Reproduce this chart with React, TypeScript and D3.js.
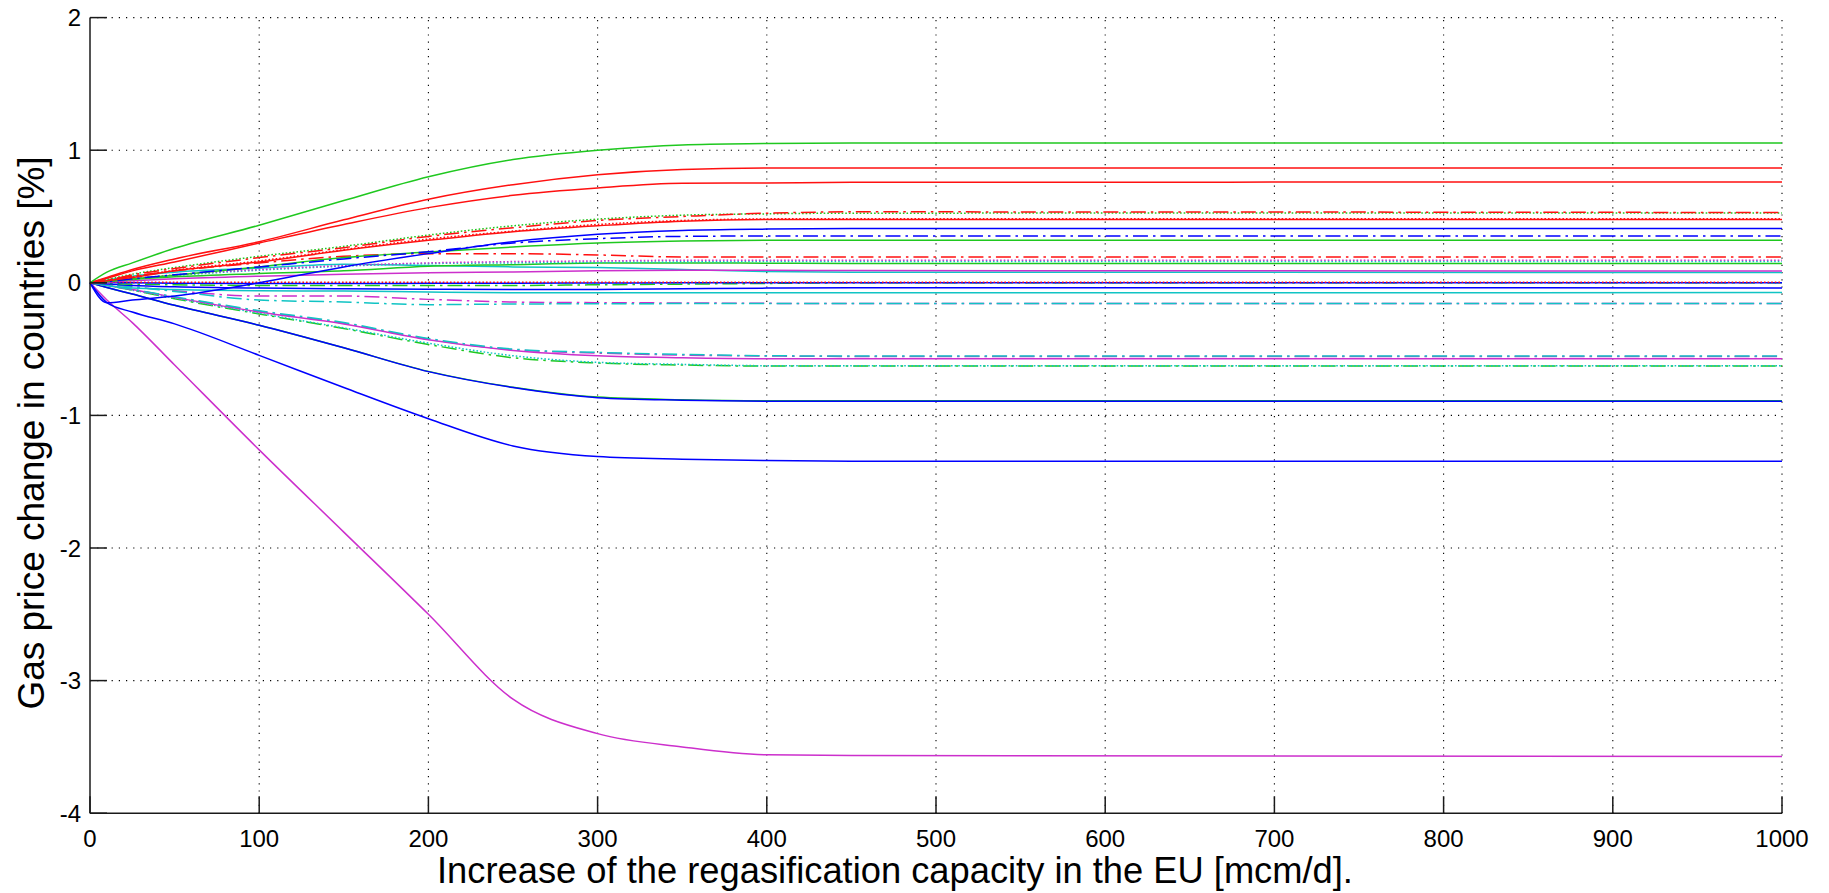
import React from "react";
import * as d3 from "d3";

// Capacity increase steps (mcm/d) at which each country's price change is sampled
const capacitySteps = [0, 10, 25, 50, 100, 150, 200, 250, 300, 350, 400, 450, 1000];

const xTickValues = [0, 100, 200, 300, 400, 500, 600, 700, 800, 900, 1000];
const yTickValues = [-4, -3, -2, -1, 0, 1, 2];

// Price change [%] per country, one array per curve
const greenTop = [0, 0.08, 0.15, 0.26, 0.434, 0.62, 0.8, 0.93, 1.0, 1.04, 1.05, 1.055, 1.055];
const redUpper = [0, 0.04, 0.1, 0.18, 0.31, 0.475, 0.63, 0.74, 0.815, 0.855, 0.866, 0.866, 0.866];
const redSecond = [0, 0.035, 0.09, 0.157, 0.3, 0.44, 0.567, 0.66, 0.715, 0.75, 0.753, 0.758, 0.76];
const redDashDotHigh = [0, 0.02, 0.06, 0.107, 0.19, 0.265, 0.35, 0.415, 0.47, 0.5, 0.525, 0.535, 0.53];
const greenDottedHigh = [0, 0.025, 0.065, 0.115, 0.2, 0.275, 0.36, 0.43, 0.48, 0.51, 0.52, 0.525, 0.527];
const redThird = [0, 0.015, 0.04, 0.09, 0.157, 0.245, 0.32, 0.385, 0.43, 0.465, 0.477, 0.477, 0.477];
const redDottedMid = [0, 0.02, 0.045, 0.095, 0.165, 0.25, 0.33, 0.39, 0.44, 0.47, 0.482, 0.483, 0.483];
const blueRising = [0, -0.15, -0.13, -0.1, 0.0, 0.12, 0.22, 0.31, 0.366, 0.395, 0.405, 0.409, 0.409];
const blueDashDotHigh = [0, 0.01, 0.03, 0.06, 0.12, 0.18, 0.235, 0.3, 0.333, 0.35, 0.353, 0.353, 0.353];
const greenMid = [0, 0.01, 0.03, 0.057, 0.12, 0.19, 0.233, 0.27, 0.3, 0.315, 0.321, 0.321, 0.321];
const redDashDotLow = [0, 0.02, 0.05, 0.09, 0.15, 0.2, 0.22, 0.22, 0.21, 0.195, 0.195, 0.195, 0.195];
const magentaDotted = [0, 0.01, 0.03, 0.06, 0.1, 0.13, 0.15, 0.16, 0.165, 0.17, 0.17, 0.17, 0.17];
const cyanDotted = [0, 0.01, 0.03, 0.055, 0.095, 0.125, 0.145, 0.15, 0.155, 0.158, 0.16, 0.16, 0.16];
const greenLow = [0, 0.01, 0.025, 0.045, 0.07, 0.09, 0.125, 0.137, 0.15, 0.15, 0.148, 0.146, 0.145];
const magentaSolidHigh = [0, 0.005, 0.015, 0.03, 0.05, 0.065, 0.075, 0.082, 0.09, 0.094, 0.094, 0.092, 0.089];
const cyanSolidHigh = [0, 0.02, 0.05, 0.08, 0.11, 0.14, 0.13, 0.12, 0.115, 0.1, 0.085, 0.08, 0.077];
const greenDashDotZero = [0, -0.005, -0.01, -0.015, -0.02, -0.02, -0.02, -0.02, -0.015, -0.01, -0.005, 0, 0];
const blueZero = [0, 0, 0, -0.003, -0.005, -0.005, -0.004, -0.003, -0.002, 0, 0, 0, 0];
const redDottedZero = [0, 0.003, 0.004, 0.004, 0.004, 0.004, 0.004, 0.004, 0.004, 0.004, 0.004, 0.004, 0.004];
const blueSlightNeg = [0, -0.01, -0.02, -0.03, -0.04, -0.045, -0.048, -0.05, -0.05, -0.045, -0.04, -0.037, -0.039];
const cyanSlightNeg = [0, -0.02, -0.04, -0.05, -0.06, -0.062, -0.07, -0.075, -0.075, -0.075, -0.075, -0.075, -0.074];
const magentaDashDotNeg = [0, -0.01, -0.03, -0.06, -0.1, -0.1, -0.125, -0.145, -0.15, -0.152, -0.155, -0.157, -0.157];
const cyanDashDotNeg = [0, -0.01, -0.03, -0.065, -0.13, -0.145, -0.165, -0.16, -0.158, -0.157, -0.157, -0.157, -0.157];
const greenDashDotMidNeg = [0, -0.02, -0.055, -0.12, -0.235, -0.345, -0.465, -0.565, -0.605, -0.62, -0.628, -0.628, -0.628];
const cyanDottedMidNeg = [0, -0.02, -0.055, -0.115, -0.23, -0.34, -0.455, -0.55, -0.6, -0.615, -0.625, -0.625, -0.625];
const magentaMidNeg = [0, -0.02, -0.05, -0.11, -0.22, -0.31, -0.43, -0.51, -0.55, -0.565, -0.572, -0.572, -0.572];
const magentaDashDotMidNeg = [0, -0.02, -0.05, -0.108, -0.215, -0.305, -0.425, -0.505, -0.53, -0.545, -0.552, -0.555, -0.555];
const cyanDashDotMidNeg = [0, -0.02, -0.05, -0.105, -0.21, -0.3, -0.42, -0.5, -0.525, -0.54, -0.55, -0.552, -0.552];
const greenLowNeg = [0, -0.035, -0.085, -0.17, -0.32, -0.49, -0.668, -0.788, -0.862, -0.882, -0.89, -0.89, -0.89];
const blueLowNeg = [0, -0.035, -0.085, -0.17, -0.32, -0.49, -0.67, -0.79, -0.866, -0.885, -0.893, -0.894, -0.894];
const blueDeep = [0, -0.15, -0.22, -0.31, -0.547, -0.79, -1.025, -1.23, -1.31, -1.33, -1.34, -1.345, -1.346];
const magentaDeep = [0, -0.13, -0.3, -0.62, -1.26, -1.88, -2.5, -3.14, -3.4, -3.5, -3.56, -3.565, -3.573];

// Drawing order (later curves sit on top)
const seriesTable: { name: string; values: number[] }[] = [
  { name: "magentaDeep", values: magentaDeep },
  { name: "greenLowNeg", values: greenLowNeg },
  { name: "blueLowNeg", values: blueLowNeg },
  { name: "blueDeep", values: blueDeep },
  { name: "greenDashDotMidNeg", values: greenDashDotMidNeg },
  { name: "cyanDottedMidNeg", values: cyanDottedMidNeg },
  { name: "magentaMidNeg", values: magentaMidNeg },
  { name: "magentaDashDotMidNeg", values: magentaDashDotMidNeg },
  { name: "cyanDashDotMidNeg", values: cyanDashDotMidNeg },
  { name: "magentaDashDotNeg", values: magentaDashDotNeg },
  { name: "cyanDashDotNeg", values: cyanDashDotNeg },
  { name: "cyanSlightNeg", values: cyanSlightNeg },
  { name: "blueSlightNeg", values: blueSlightNeg },
  { name: "greenDashDotZero", values: greenDashDotZero },
  { name: "blueZero", values: blueZero },
  { name: "redDottedZero", values: redDottedZero },
  { name: "cyanSolidHigh", values: cyanSolidHigh },
  { name: "magentaSolidHigh", values: magentaSolidHigh },
  { name: "greenLow", values: greenLow },
  { name: "cyanDotted", values: cyanDotted },
  { name: "magentaDotted", values: magentaDotted },
  { name: "redDashDotLow", values: redDashDotLow },
  { name: "greenMid", values: greenMid },
  { name: "blueDashDotHigh", values: blueDashDotHigh },
  { name: "blueRising", values: blueRising },
  { name: "redThird", values: redThird },
  { name: "redDottedMid", values: redDottedMid },
  { name: "greenDottedHigh", values: greenDottedHigh },
  { name: "redDashDotHigh", values: redDashDotHigh },
  { name: "redSecond", values: redSecond },
  { name: "redUpper", values: redUpper },
  { name: "greenTop", values: greenTop },
];

// Line appearance
const palette: Record<string, string> = {
  b: "#0000ff",
  g: "#1fc81f",
  r: "#ff1010",
  c: "#10c4c4",
  m: "#cc2fcc",
};
const dashes: Record<string, string | undefined> = {
  solid: undefined,
  dashDot: "15,5,2.5,5",
  dotted: "1.6,2",
};
const lineStyles: Record<string, [string, string]> = {
  magentaDeep: ["m", "solid"],
  greenLowNeg: ["g", "solid"],
  blueLowNeg: ["b", "solid"],
  blueDeep: ["b", "solid"],
  greenDashDotMidNeg: ["g", "dashDot"],
  cyanDottedMidNeg: ["c", "dotted"],
  magentaMidNeg: ["m", "solid"],
  magentaDashDotMidNeg: ["m", "dashDot"],
  cyanDashDotMidNeg: ["c", "dashDot"],
  magentaDashDotNeg: ["m", "dashDot"],
  cyanDashDotNeg: ["c", "dashDot"],
  cyanSlightNeg: ["c", "solid"],
  blueSlightNeg: ["b", "solid"],
  greenDashDotZero: ["g", "dashDot"],
  blueZero: ["b", "solid"],
  redDottedZero: ["r", "dotted"],
  cyanSolidHigh: ["c", "solid"],
  magentaSolidHigh: ["m", "solid"],
  greenLow: ["g", "solid"],
  cyanDotted: ["c", "dotted"],
  magentaDotted: ["m", "dotted"],
  redDashDotLow: ["r", "dashDot"],
  greenMid: ["g", "solid"],
  blueDashDotHigh: ["b", "dashDot"],
  blueRising: ["b", "solid"],
  redThird: ["r", "solid"],
  redDottedMid: ["r", "dotted"],
  greenDottedHigh: ["g", "dotted"],
  redDashDotHigh: ["r", "dashDot"],
  redSecond: ["r", "solid"],
  redUpper: ["r", "solid"],
  greenTop: ["g", "solid"],
};

const WIDTH = 1829;
const HEIGHT = 893;
const plot = { left: 90, right: 1782, top: 17.6, bottom: 813.2 };

export default function App() {
  const x = d3.scaleLinear().domain([0, 1000]).range([plot.left, plot.right]);
  const y = d3.scaleLinear().domain([-4, 2]).range([plot.bottom, plot.top]);

  const line = d3
    .line<[number, number]>()
    .x((d) => x(d[0]))
    .y((d) => y(d[1]))
    .curve(d3.curveMonotoneX);

  const font = "'Liberation Sans', Arial, Helvetica, sans-serif";
  const tickLen = 17;

  return (
    <svg
      width={WIDTH}
      height={HEIGHT}
      style={{ position: "absolute", left: 0, top: 0, display: "block", background: "#fff" }}
      fontFamily={font}
    >
      <rect x={0} y={0} width={WIDTH} height={HEIGHT} fill="#fff" />

      {/* dotted grid */}
      <g stroke="#000" strokeWidth={1.1} strokeDasharray="1.2,6" fill="none">
        {xTickValues
          .filter((v) => v !== 0)
          .map((v) => (
            <line key={"gx" + v} x1={x(v)} x2={x(v)} y1={plot.bottom} y2={plot.top} />
          ))}
        {yTickValues
          .filter((v) => v !== -4)
          .map((v) => (
            <line key={"gy" + v} x1={plot.left} x2={plot.right} y1={y(v)} y2={y(v)} />
          ))}
      </g>

      {/* curves */}
      <g fill="none" strokeWidth={1.5} strokeLinejoin="round">
        {seriesTable.map((s) => {
          const [c, st] = lineStyles[s.name];
          const pts = capacitySteps.map((cx, i) => [cx, s.values[i]] as [number, number]);
          return (
            <path
              key={s.name}
              d={line(pts) || ""}
              stroke={palette[c]}
              strokeDasharray={dashes[st]}
            />
          );
        })}
      </g>

      {/* axes */}
      <g stroke="#1a1a1a" strokeWidth={1.5} fill="none">
        <line x1={plot.left} x2={plot.left} y1={plot.top} y2={plot.bottom} />
        <line x1={plot.left} x2={plot.right} y1={plot.bottom} y2={plot.bottom} />
        {yTickValues.map((v) => (
          <line key={"ty" + v} x1={plot.left} x2={plot.left + tickLen} y1={y(v)} y2={y(v)} />
        ))}
        {xTickValues.map((v) => (
          <line key={"tx" + v} x1={x(v)} x2={x(v)} y1={plot.bottom} y2={plot.bottom - tickLen} />
        ))}
      </g>

      {/* tick labels */}
      <g fill="#000" fontSize={24}>
        {yTickValues.map((v) => (
          <text key={"ly" + v} x={plot.left - 9} y={y(v)} dy="0.36em" textAnchor="end">
            {v}
          </text>
        ))}
        {xTickValues.map((v) => (
          <text key={"lx" + v} x={x(v)} y={847} textAnchor="middle">
            {v}
          </text>
        ))}
      </g>

      {/* axis titles */}
      <text x={895} y={883} textAnchor="middle" fontSize={36.3} fill="#000">
        Increase of the regasification capacity in the EU [mcm/d].
      </text>
      <text
        transform={`translate(44, 433) rotate(-90)`}
        textAnchor="middle"
        fontSize={37}
        fill="#000"
      >
        Gas price change in countries [%]
      </text>
    </svg>
  );
}
